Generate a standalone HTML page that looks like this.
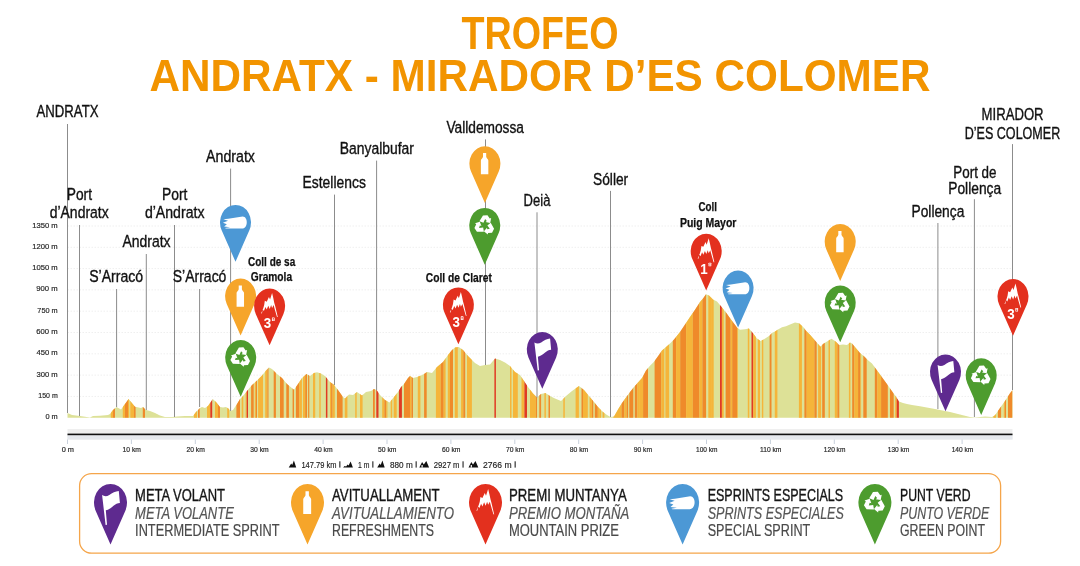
<!DOCTYPE html><html><head><meta charset="utf-8"><style>html,body{margin:0;padding:0;background:#fff;overflow:hidden}svg{display:block;will-change:transform}</style></head><body>
<svg width="1080" height="566" viewBox="0 0 1080 566" font-family='"Liberation Sans", sans-serif'>
<rect width="1080" height="566" fill="#fff"/>
<text x="540" y="48.5" text-anchor="middle" font-weight="bold" font-size="46" fill="#F29400" textLength="157" lengthAdjust="spacingAndGlyphs">TROFEO</text>
<text x="540" y="91" text-anchor="middle" font-weight="bold" font-size="45.2" fill="#F29400" textLength="781" lengthAdjust="spacingAndGlyphs">ANDRATX - MIRADOR D’ES COLOMER</text>
<text x="57.7" y="419.2" text-anchor="end" font-size="7.9" fill="#2a2a2a" stroke="#2a2a2a" stroke-width="0.2" textLength="12.3" lengthAdjust="spacingAndGlyphs">0 m</text>
<line x1="67.5" y1="396.4" x2="1012.5" y2="396.4" stroke="#efefef" stroke-width="1" stroke-dasharray="1.5,1.5"/>
<text x="57.7" y="397.9" text-anchor="end" font-size="7.9" fill="#2a2a2a" stroke="#2a2a2a" stroke-width="0.2" textLength="19.4" lengthAdjust="spacingAndGlyphs">150 m</text>
<line x1="67.5" y1="375.1" x2="1012.5" y2="375.1" stroke="#efefef" stroke-width="1" stroke-dasharray="1.5,1.5"/>
<text x="57.7" y="376.6" text-anchor="end" font-size="7.9" fill="#2a2a2a" stroke="#2a2a2a" stroke-width="0.2" textLength="21.3" lengthAdjust="spacingAndGlyphs">300 m</text>
<line x1="67.5" y1="353.8" x2="1012.5" y2="353.8" stroke="#efefef" stroke-width="1" stroke-dasharray="1.5,1.5"/>
<text x="57.7" y="355.3" text-anchor="end" font-size="7.9" fill="#2a2a2a" stroke="#2a2a2a" stroke-width="0.2" textLength="21.3" lengthAdjust="spacingAndGlyphs">450 m</text>
<line x1="67.5" y1="332.5" x2="1012.5" y2="332.5" stroke="#efefef" stroke-width="1" stroke-dasharray="1.5,1.5"/>
<text x="57.7" y="334.0" text-anchor="end" font-size="7.9" fill="#2a2a2a" stroke="#2a2a2a" stroke-width="0.2" textLength="21.4" lengthAdjust="spacingAndGlyphs">600 m</text>
<line x1="67.5" y1="311.2" x2="1012.5" y2="311.2" stroke="#efefef" stroke-width="1" stroke-dasharray="1.5,1.5"/>
<text x="57.7" y="312.7" text-anchor="end" font-size="7.9" fill="#2a2a2a" stroke="#2a2a2a" stroke-width="0.2" textLength="20.4" lengthAdjust="spacingAndGlyphs">750 m</text>
<line x1="67.5" y1="289.9" x2="1012.5" y2="289.9" stroke="#efefef" stroke-width="1" stroke-dasharray="1.5,1.5"/>
<text x="57.7" y="291.4" text-anchor="end" font-size="7.9" fill="#2a2a2a" stroke="#2a2a2a" stroke-width="0.2" textLength="21.4" lengthAdjust="spacingAndGlyphs">900 m</text>
<line x1="67.5" y1="268.6" x2="1012.5" y2="268.6" stroke="#efefef" stroke-width="1" stroke-dasharray="1.5,1.5"/>
<text x="57.7" y="270.1" text-anchor="end" font-size="7.9" fill="#2a2a2a" stroke="#2a2a2a" stroke-width="0.2" textLength="25.5" lengthAdjust="spacingAndGlyphs">1050 m</text>
<line x1="67.5" y1="247.3" x2="1012.5" y2="247.3" stroke="#efefef" stroke-width="1" stroke-dasharray="1.5,1.5"/>
<text x="57.7" y="248.8" text-anchor="end" font-size="7.9" fill="#2a2a2a" stroke="#2a2a2a" stroke-width="0.2" textLength="25.5" lengthAdjust="spacingAndGlyphs">1200 m</text>
<line x1="67.5" y1="226.0" x2="1012.5" y2="226.0" stroke="#efefef" stroke-width="1" stroke-dasharray="1.5,1.5"/>
<text x="57.7" y="227.5" text-anchor="end" font-size="7.9" fill="#2a2a2a" stroke="#2a2a2a" stroke-width="0.2" textLength="25.5" lengthAdjust="spacingAndGlyphs">1350 m</text>
<defs><clipPath id="pc"><path d="M67.5,417.7 L67.5,413.0 L72.0,415.0 L80.0,416.0 L90.0,417.5 L93.0,416.0 L100.0,415.7 L108.0,415.0 L110.0,414.0 L113.0,410.0 L116.5,407.0 L121.0,409.5 L128.6,399.0 L135.0,406.7 L141.0,408.0 L143.0,407.0 L146.0,410.0 L150.0,411.0 L155.0,413.0 L160.0,415.5 L165.0,417.0 L172.0,417.0 L177.0,416.5 L185.0,416.0 L193.0,416.0 L196.0,412.0 L200.0,408.0 L202.0,407.0 L205.0,408.0 L208.0,406.0 L212.8,399.0 L216.0,402.0 L220.0,407.0 L223.0,407.5 L226.0,407.0 L229.0,409.0 L230.3,411.0 L233.0,410.0 L237.0,404.0 L240.0,399.0 L243.0,396.0 L247.0,391.0 L252.0,385.0 L257.0,380.5 L262.0,375.6 L266.0,370.5 L269.0,367.5 L272.0,369.0 L277.0,374.0 L282.0,378.0 L287.0,384.0 L290.0,386.5 L294.0,389.8 L298.0,384.0 L302.0,378.0 L306.5,374.0 L310.0,376.0 L314.0,373.0 L317.0,372.2 L321.0,373.6 L325.0,376.0 L330.0,382.0 L334.0,384.7 L338.0,390.0 L343.0,397.0 L345.0,398.5 L349.0,394.5 L353.0,395.0 L357.0,392.0 L362.0,395.5 L366.0,392.0 L371.0,391.0 L374.0,389.0 L376.6,390.0 L380.0,395.0 L385.0,400.0 L389.5,402.5 L394.0,397.0 L398.0,392.0 L401.0,387.0 L404.0,384.0 L408.0,378.0 L410.0,376.0 L413.0,378.0 L417.0,377.0 L421.0,375.5 L424.0,374.0 L427.0,372.0 L432.0,373.0 L437.0,367.0 L443.0,362.0 L448.0,355.0 L452.0,350.0 L455.0,347.5 L458.7,347.0 L463.0,350.0 L468.0,356.0 L472.0,360.0 L475.0,363.0 L480.0,366.0 L485.0,365.0 L490.0,364.5 L495.0,358.5 L500.0,360.0 L505.0,362.5 L510.0,366.0 L515.0,372.0 L520.0,375.0 L524.0,381.0 L528.0,387.0 L533.0,393.5 L537.0,397.5 L541.0,394.0 L545.5,393.0 L550.0,396.0 L555.0,398.5 L561.0,401.0 L566.0,396.0 L572.0,391.0 L579.0,386.0 L584.0,390.0 L589.0,396.0 L594.0,402.0 L598.0,407.0 L603.0,412.0 L607.0,415.0 L610.5,417.0 L614.0,416.5 L618.0,409.5 L622.0,403.0 L626.0,397.6 L630.0,392.0 L634.0,387.0 L638.0,382.5 L642.0,378.0 L646.0,370.5 L650.0,365.8 L654.0,361.8 L658.0,356.2 L662.0,350.4 L666.0,347.0 L670.0,343.5 L674.0,339.5 L680.0,332.0 L685.0,324.6 L690.0,317.1 L695.0,309.7 L700.0,302.0 L703.0,298.5 L706.0,294.2 L709.0,295.5 L713.0,299.4 L717.0,301.6 L721.0,306.2 L726.0,312.6 L731.0,319.4 L737.0,327.5 L740.0,329.8 L745.0,329.2 L749.0,328.4 L753.0,333.2 L757.0,338.4 L760.5,341.1 L764.0,339.2 L769.0,336.0 L772.0,333.0 L775.0,331.6 L778.0,329.4 L782.0,327.2 L786.0,326.3 L790.0,324.6 L795.0,322.4 L799.0,323.3 L803.0,326.8 L806.0,330.8 L810.0,334.7 L815.0,340.5 L820.5,346.7 L823.0,344.0 L827.0,341.4 L831.5,338.7 L836.0,341.8 L839.0,345.1 L843.0,344.6 L847.0,345.1 L850.0,342.4 L852.0,343.5 L856.0,348.3 L860.0,353.0 L864.0,356.2 L868.0,360.2 L872.0,363.4 L876.0,369.0 L880.0,374.5 L884.0,380.0 L888.0,385.6 L892.0,391.2 L896.0,396.8 L899.0,401.5 L903.0,403.1 L907.0,403.9 L912.0,405.0 L920.0,406.3 L935.0,409.0 L950.0,412.0 L960.0,414.5 L970.0,417.0 L975.0,417.5 L985.0,416.5 L992.0,417.0 L995.0,415.2 L1000.0,408.0 L1005.0,401.0 L1010.0,393.3 L1012.5,390.0 L1012.5,417.7 Z"/></clipPath></defs>
<g clip-path="url(#pc)"><rect x="67" y="280" width="947" height="140" fill="#DDE197"/>
<rect x="110.8" y="280" width="2.2" height="140" fill="#F5B53A"/><rect x="113.0" y="280" width="2.0" height="140" fill="#EF8A2A"/><rect x="122.8" y="280" width="2.2" height="140" fill="#F5B53A"/><rect x="125.0" y="280" width="3.0" height="140" fill="#EF8A2A"/><rect x="128.0" y="280" width="1.2" height="140" fill="#F5B53A"/><rect x="130.3" y="280" width="3.7" height="140" fill="#F5B53A"/><rect x="134.0" y="280" width="1.6" height="140" fill="#EF8A2A"/><rect x="142.8" y="280" width="2.2" height="140" fill="#EF8A2A"/><rect x="193.9" y="280" width="3.1" height="140" fill="#F5B53A"/><rect x="198.0" y="280" width="1.7" height="140" fill="#EF8A2A"/><rect x="207.0" y="280" width="3.3" height="140" fill="#F5B53A"/><rect x="210.3" y="280" width="1.9" height="140" fill="#E03A24"/><rect x="215.0" y="280" width="3.0" height="140" fill="#F5B53A"/><rect x="218.0" y="280" width="2.0" height="140" fill="#EF8A2A"/><rect x="227.2" y="280" width="2.0" height="140" fill="#F5B53A"/><rect x="236.4" y="280" width="3.6" height="140" fill="#EF8A2A"/><rect x="241.7" y="280" width="1.6" height="140" fill="#F5B53A"/><rect x="245.6" y="280" width="1.1" height="140" fill="#F5B53A"/><rect x="246.7" y="280" width="1.3" height="140" fill="#E03A24"/><rect x="251.1" y="280" width="2.6" height="140" fill="#EF8A2A"/><rect x="254.8" y="280" width="1.1" height="140" fill="#F5B53A"/><rect x="255.9" y="280" width="1.1" height="140" fill="#EF8A2A"/><rect x="258.1" y="280" width="4.9" height="140" fill="#F5B53A"/><rect x="265.2" y="280" width="2.2" height="140" fill="#F5B53A"/><rect x="267.4" y="280" width="1.1" height="140" fill="#EF8A2A"/><rect x="273.7" y="280" width="2.2" height="140" fill="#EF8A2A"/><rect x="280.0" y="280" width="3.7" height="140" fill="#EF8A2A"/><rect x="286.3" y="280" width="2.6" height="140" fill="#EF8A2A"/><rect x="292.6" y="280" width="1.4" height="140" fill="#EF8A2A"/><rect x="295.9" y="280" width="3.4" height="140" fill="#EF8A2A"/><rect x="299.3" y="280" width="2.6" height="140" fill="#F5B53A"/><rect x="303.0" y="280" width="2.2" height="140" fill="#F5B53A"/><rect x="305.2" y="280" width="1.8" height="140" fill="#EF8A2A"/><rect x="308.1" y="280" width="1.2" height="140" fill="#EF8A2A"/><rect x="313.0" y="280" width="2.2" height="140" fill="#F5B53A"/><rect x="319.3" y="280" width="1.4" height="140" fill="#F5B53A"/><rect x="325.9" y="280" width="1.5" height="140" fill="#E03A24"/><rect x="330.0" y="280" width="1.1" height="140" fill="#F5B53A"/><rect x="331.1" y="280" width="1.5" height="140" fill="#EF8A2A"/><rect x="332.6" y="280" width="2.2" height="140" fill="#F5B53A"/><rect x="337.0" y="280" width="5.6" height="140" fill="#EF8A2A"/><rect x="344.8" y="280" width="2.6" height="140" fill="#F5B53A"/><rect x="355.2" y="280" width="1.5" height="140" fill="#F5B53A"/><rect x="360.0" y="280" width="2.6" height="140" fill="#F5B53A"/><rect x="373.0" y="280" width="1.8" height="140" fill="#EF8A2A"/><rect x="376.3" y="280" width="2.2" height="140" fill="#E03A24"/><rect x="382.2" y="280" width="2.2" height="140" fill="#F5B53A"/><rect x="384.4" y="280" width="1.9" height="140" fill="#EF8A2A"/><rect x="386.3" y="280" width="1.1" height="140" fill="#F5B53A"/><rect x="390.7" y="280" width="1.5" height="140" fill="#F5B53A"/><rect x="393.7" y="280" width="3.0" height="140" fill="#F5B53A"/><rect x="398.9" y="280" width="3.0" height="140" fill="#E03A24"/><rect x="404.0" y="280" width="6.0" height="140" fill="#EF8A2A"/><rect x="410.0" y="280" width="1.5" height="140" fill="#F5B53A"/><rect x="411.5" y="280" width="1.5" height="140" fill="#EF8A2A"/><rect x="417.8" y="280" width="2.6" height="140" fill="#F5B53A"/><rect x="424.1" y="280" width="2.6" height="140" fill="#EF8A2A"/><rect x="435.9" y="280" width="4.8" height="140" fill="#F5B53A"/><rect x="440.7" y="280" width="3.0" height="140" fill="#EF8A2A"/><rect x="443.7" y="280" width="1.9" height="140" fill="#F5B53A"/><rect x="447.8" y="280" width="2.2" height="140" fill="#F5B53A"/><rect x="450.0" y="280" width="3.0" height="140" fill="#EF8A2A"/><rect x="454.8" y="280" width="3.0" height="140" fill="#F5B53A"/><rect x="461.1" y="280" width="2.2" height="140" fill="#F5B53A"/><rect x="463.3" y="280" width="1.9" height="140" fill="#EF8A2A"/><rect x="467.0" y="280" width="4.9" height="140" fill="#F5B53A"/><rect x="494.4" y="280" width="1.5" height="140" fill="#E03A24"/><rect x="510.0" y="280" width="1.5" height="140" fill="#F5B53A"/><rect x="513.0" y="280" width="4.8" height="140" fill="#F5B53A"/><rect x="521.5" y="280" width="2.9" height="140" fill="#F5B53A"/><rect x="524.4" y="280" width="2.6" height="140" fill="#E03A24"/><rect x="530.0" y="280" width="5.9" height="140" fill="#F5B53A"/><rect x="535.9" y="280" width="1.1" height="140" fill="#EF8A2A"/><rect x="539.3" y="280" width="1.8" height="140" fill="#EF8A2A"/><rect x="544.4" y="280" width="1.5" height="140" fill="#F5B53A"/><rect x="548.5" y="280" width="1.5" height="140" fill="#EF8A2A"/><rect x="563.3" y="280" width="1.5" height="140" fill="#F5B53A"/><rect x="575.6" y="280" width="3.3" height="140" fill="#F5B53A"/><rect x="581.5" y="280" width="1.5" height="140" fill="#EF8A2A"/><rect x="583.0" y="280" width="4.8" height="140" fill="#F5B53A"/><rect x="589.6" y="280" width="2.3" height="140" fill="#F5B53A"/><rect x="591.9" y="280" width="1.4" height="140" fill="#EF8A2A"/><rect x="594.8" y="280" width="3.0" height="140" fill="#EF8A2A"/><rect x="597.8" y="280" width="1.5" height="140" fill="#F5B53A"/><rect x="599.3" y="280" width="1.8" height="140" fill="#F5B53A"/><rect x="602.6" y="280" width="1.8" height="140" fill="#F5B53A"/><rect x="613.3" y="280" width="8.2" height="140" fill="#F5B53A"/><rect x="621.5" y="280" width="2.9" height="140" fill="#EF8A2A"/><rect x="624.4" y="280" width="2.3" height="140" fill="#F5B53A"/><rect x="626.7" y="280" width="1.4" height="140" fill="#EF8A2A"/><rect x="629.3" y="280" width="4.0" height="140" fill="#EF8A2A"/><rect x="634.8" y="280" width="2.6" height="140" fill="#EF8A2A"/><rect x="637.4" y="280" width="1.7" height="140" fill="#F5B53A"/><rect x="639.1" y="280" width="4.0" height="140" fill="#F5B53A"/><rect x="643.1" y="280" width="4.9" height="140" fill="#EF8A2A"/><rect x="654.6" y="280" width="6.7" height="140" fill="#EF8A2A"/><rect x="661.3" y="280" width="3.0" height="140" fill="#F5B53A"/><rect x="665.4" y="280" width="3.7" height="140" fill="#F5B53A"/><rect x="672.8" y="280" width="3.3" height="140" fill="#EF8A2A"/><rect x="676.1" y="280" width="4.1" height="140" fill="#F5B53A"/><rect x="680.2" y="280" width="5.9" height="140" fill="#EF8A2A"/><rect x="686.1" y="280" width="6.7" height="140" fill="#F5B53A"/><rect x="692.8" y="280" width="6.6" height="140" fill="#EF8A2A"/><rect x="699.4" y="280" width="3.0" height="140" fill="#F5B53A"/><rect x="702.4" y="280" width="3.7" height="140" fill="#EF8A2A"/><rect x="708.3" y="280" width="3.0" height="140" fill="#F5B53A"/><rect x="711.1" y="280" width="2.6" height="140" fill="#F5B53A"/><rect x="720.0" y="280" width="1.9" height="140" fill="#E03A24"/><rect x="721.9" y="280" width="1.8" height="140" fill="#F5B53A"/><rect x="725.6" y="280" width="5.1" height="140" fill="#EF8A2A"/><rect x="730.7" y="280" width="1.5" height="140" fill="#F5B53A"/><rect x="732.2" y="280" width="4.8" height="140" fill="#EF8A2A"/><rect x="737.0" y="280" width="0.8" height="140" fill="#F5B53A"/><rect x="747.8" y="280" width="1.5" height="140" fill="#F5B53A"/><rect x="751.5" y="280" width="1.8" height="140" fill="#E03A24"/><rect x="753.3" y="280" width="2.6" height="140" fill="#F5B53A"/><rect x="757.8" y="280" width="2.2" height="140" fill="#F5B53A"/><rect x="761.9" y="280" width="1.4" height="140" fill="#F5B53A"/><rect x="769.6" y="280" width="1.9" height="140" fill="#EF8A2A"/><rect x="774.8" y="280" width="2.6" height="140" fill="#F5B53A"/><rect x="798.9" y="280" width="3.0" height="140" fill="#F5B53A"/><rect x="804.4" y="280" width="2.3" height="140" fill="#EF8A2A"/><rect x="806.7" y="280" width="7.7" height="140" fill="#F5B53A"/><rect x="814.4" y="280" width="2.3" height="140" fill="#EF8A2A"/><rect x="818.1" y="280" width="3.0" height="140" fill="#F5B53A"/><rect x="822.2" y="280" width="2.6" height="140" fill="#EF8A2A"/><rect x="828.5" y="280" width="1.5" height="140" fill="#F5B53A"/><rect x="834.8" y="280" width="2.6" height="140" fill="#F5B53A"/><rect x="837.4" y="280" width="1.9" height="140" fill="#EF8A2A"/><rect x="848.9" y="280" width="1.5" height="140" fill="#F5B53A"/><rect x="852.2" y="280" width="2.2" height="140" fill="#EF8A2A"/><rect x="854.4" y="280" width="3.7" height="140" fill="#F5B53A"/><rect x="858.1" y="280" width="2.3" height="140" fill="#EF8A2A"/><rect x="860.4" y="280" width="0.7" height="140" fill="#F5B53A"/><rect x="863.3" y="280" width="3.4" height="140" fill="#EF8A2A"/><rect x="874.8" y="280" width="2.6" height="140" fill="#EF8A2A"/><rect x="877.4" y="280" width="3.7" height="140" fill="#F5B53A"/><rect x="881.1" y="280" width="6.7" height="140" fill="#EF8A2A"/><rect x="890.0" y="280" width="3.7" height="140" fill="#EF8A2A"/><rect x="895.2" y="280" width="1.5" height="140" fill="#F5B53A"/><rect x="896.7" y="280" width="2.2" height="140" fill="#E03A24"/><rect x="993.4" y="280" width="2.5" height="140" fill="#F5B53A"/><rect x="997.9" y="280" width="3.2" height="140" fill="#EF8A2A"/><rect x="1003.8" y="280" width="1.0" height="140" fill="#F5B53A"/><rect x="1004.8" y="280" width="1.2" height="140" fill="#EF8A2A"/><rect x="1008.0" y="280" width="4.5" height="140" fill="#EF8A2A"/>
</g>
<line x1="67.5" y1="124.0" x2="67.5" y2="413.0" stroke="#8c8c8c" stroke-width="1"/>
<line x1="79.5" y1="225.0" x2="79.5" y2="416.0" stroke="#8c8c8c" stroke-width="1"/>
<line x1="116.6" y1="289.0" x2="116.6" y2="407.0" stroke="#8c8c8c" stroke-width="1"/>
<line x1="146.3" y1="254.0" x2="146.3" y2="410.0" stroke="#8c8c8c" stroke-width="1"/>
<line x1="174.5" y1="225.0" x2="174.5" y2="417.0" stroke="#8c8c8c" stroke-width="1"/>
<line x1="199.6" y1="289.0" x2="199.6" y2="407.0" stroke="#8c8c8c" stroke-width="1"/>
<line x1="230.6" y1="168.6" x2="230.6" y2="411.0" stroke="#8c8c8c" stroke-width="1"/>
<line x1="334.5" y1="194.6" x2="334.5" y2="385.0" stroke="#8c8c8c" stroke-width="1"/>
<line x1="376.6" y1="160.6" x2="376.6" y2="390.0" stroke="#8c8c8c" stroke-width="1"/>
<line x1="485.5" y1="139.4" x2="485.5" y2="365.0" stroke="#8c8c8c" stroke-width="1"/>
<line x1="537.0" y1="212.3" x2="537.0" y2="397.5" stroke="#8c8c8c" stroke-width="1"/>
<line x1="610.5" y1="190.9" x2="610.5" y2="417.0" stroke="#8c8c8c" stroke-width="1"/>
<line x1="937.9" y1="223.0" x2="937.9" y2="409.0" stroke="#8c8c8c" stroke-width="1"/>
<line x1="974.4" y1="199.2" x2="974.4" y2="417.0" stroke="#8c8c8c" stroke-width="1"/>
<line x1="1012.5" y1="144.1" x2="1012.5" y2="390.0" stroke="#8c8c8c" stroke-width="1"/>
<text x="67.5" y="117.0" text-anchor="middle" font-size="16.3" fill="#111" stroke="#111" stroke-width="0.35" textLength="62.0" lengthAdjust="spacingAndGlyphs">ANDRATX</text>
<text x="79.4" y="199.6" text-anchor="middle" font-size="16.3" fill="#111" stroke="#111" stroke-width="0.35" textLength="25.2" lengthAdjust="spacingAndGlyphs">Port</text>
<text x="79.2" y="217.8" text-anchor="middle" font-size="16.3" fill="#111" stroke="#111" stroke-width="0.35" textLength="59.0" lengthAdjust="spacingAndGlyphs">d’Andratx</text>
<text x="116.2" y="281.9" text-anchor="middle" font-size="16.3" fill="#111" stroke="#111" stroke-width="0.35" textLength="54.0" lengthAdjust="spacingAndGlyphs">S’Arracó</text>
<text x="146.5" y="246.5" text-anchor="middle" font-size="16.3" fill="#111" stroke="#111" stroke-width="0.35" textLength="48.2" lengthAdjust="spacingAndGlyphs">Andratx</text>
<text x="174.7" y="200.4" text-anchor="middle" font-size="16.3" fill="#111" stroke="#111" stroke-width="0.35" textLength="25.4" lengthAdjust="spacingAndGlyphs">Port</text>
<text x="174.7" y="217.6" text-anchor="middle" font-size="16.3" fill="#111" stroke="#111" stroke-width="0.35" textLength="59.6" lengthAdjust="spacingAndGlyphs">d’Andratx</text>
<text x="199.6" y="281.9" text-anchor="middle" font-size="16.3" fill="#111" stroke="#111" stroke-width="0.35" textLength="53.6" lengthAdjust="spacingAndGlyphs">S’Arracó</text>
<text x="230.5" y="161.6" text-anchor="middle" font-size="16.3" fill="#111" stroke="#111" stroke-width="0.35" textLength="48.9" lengthAdjust="spacingAndGlyphs">Andratx</text>
<text x="334.2" y="187.8" text-anchor="middle" font-size="16.3" fill="#111" stroke="#111" stroke-width="0.35" textLength="63.3" lengthAdjust="spacingAndGlyphs">Estellencs</text>
<text x="376.9" y="153.7" text-anchor="middle" font-size="16.3" fill="#111" stroke="#111" stroke-width="0.35" textLength="74.1" lengthAdjust="spacingAndGlyphs">Banyalbufar</text>
<text x="485.2" y="133.1" text-anchor="middle" font-size="16.3" fill="#111" stroke="#111" stroke-width="0.35" textLength="77.6" lengthAdjust="spacingAndGlyphs">Valldemossa</text>
<text x="537.0" y="205.8" text-anchor="middle" font-size="16.3" fill="#111" stroke="#111" stroke-width="0.35" textLength="26.8" lengthAdjust="spacingAndGlyphs">Deià</text>
<text x="610.6" y="184.7" text-anchor="middle" font-size="16.3" fill="#111" stroke="#111" stroke-width="0.35" textLength="35.2" lengthAdjust="spacingAndGlyphs">Sóller</text>
<text x="937.9" y="216.7" text-anchor="middle" font-size="16.3" fill="#111" stroke="#111" stroke-width="0.35" textLength="52.8" lengthAdjust="spacingAndGlyphs">Pollença</text>
<text x="974.9" y="178.1" text-anchor="middle" font-size="16.3" fill="#111" stroke="#111" stroke-width="0.35" textLength="43.2" lengthAdjust="spacingAndGlyphs">Port de</text>
<text x="974.7" y="193.7" text-anchor="middle" font-size="16.3" fill="#111" stroke="#111" stroke-width="0.35" textLength="52.9" lengthAdjust="spacingAndGlyphs">Pollença</text>
<text x="1012.6" y="120.2" text-anchor="middle" font-size="16.3" fill="#111" stroke="#111" stroke-width="0.35" textLength="62.0" lengthAdjust="spacingAndGlyphs">MIRADOR</text>
<text x="1012.5" y="138.6" text-anchor="middle" font-size="16.3" fill="#111" stroke="#111" stroke-width="0.35" textLength="95.5" lengthAdjust="spacingAndGlyphs">D’ES COLOMER</text>
<text x="271.6" y="265.9" text-anchor="middle" font-size="12" font-weight="bold" fill="#111" stroke="#111" stroke-width="0.25" textLength="47.3" lengthAdjust="spacingAndGlyphs">Coll de sa</text>
<text x="271.4" y="280.5" text-anchor="middle" font-size="12" font-weight="bold" fill="#111" stroke="#111" stroke-width="0.25" textLength="41.3" lengthAdjust="spacingAndGlyphs">Gramola</text>
<text x="458.8" y="281.7" text-anchor="middle" font-size="12" font-weight="bold" fill="#111" stroke="#111" stroke-width="0.25" textLength="66.0" lengthAdjust="spacingAndGlyphs">Coll de Claret</text>
<text x="707.7" y="211.0" text-anchor="middle" font-size="12" font-weight="bold" fill="#111" stroke="#111" stroke-width="0.25" textLength="18.5" lengthAdjust="spacingAndGlyphs">Coll</text>
<text x="708.2" y="226.6" text-anchor="middle" font-size="12" font-weight="bold" fill="#111" stroke="#111" stroke-width="0.25" textLength="56.4" lengthAdjust="spacingAndGlyphs">Puig Mayor</text>
<rect x="67.5" y="429" width="945" height="10.5" fill="#efefef"/>
<rect x="67.5" y="435" width="945" height="4.5" fill="#e6e9ee"/>
<rect x="67.5" y="433.6" width="945" height="1.6" fill="#111"/>
<line x1="67.5" y1="439.5" x2="67.5" y2="444" stroke="#c8d0dc" stroke-width="1"/>
<text x="67.8" y="452.4" text-anchor="middle" font-size="7.2" fill="#2a2a2a" stroke="#2a2a2a" stroke-width="0.2" textLength="12.3" lengthAdjust="spacingAndGlyphs">0 m</text>
<line x1="131.4" y1="439.5" x2="131.4" y2="444" stroke="#c8d0dc" stroke-width="1"/>
<text x="131.7" y="452.4" text-anchor="middle" font-size="7.2" fill="#2a2a2a" stroke="#2a2a2a" stroke-width="0.2" textLength="18.4" lengthAdjust="spacingAndGlyphs">10 km</text>
<line x1="195.3" y1="439.5" x2="195.3" y2="444" stroke="#c8d0dc" stroke-width="1"/>
<text x="195.6" y="452.4" text-anchor="middle" font-size="7.2" fill="#2a2a2a" stroke="#2a2a2a" stroke-width="0.2" textLength="18.4" lengthAdjust="spacingAndGlyphs">20 km</text>
<line x1="259.2" y1="439.5" x2="259.2" y2="444" stroke="#c8d0dc" stroke-width="1"/>
<text x="259.5" y="452.4" text-anchor="middle" font-size="7.2" fill="#2a2a2a" stroke="#2a2a2a" stroke-width="0.2" textLength="18.4" lengthAdjust="spacingAndGlyphs">30 km</text>
<line x1="323.1" y1="439.5" x2="323.1" y2="444" stroke="#c8d0dc" stroke-width="1"/>
<text x="323.4" y="452.4" text-anchor="middle" font-size="7.2" fill="#2a2a2a" stroke="#2a2a2a" stroke-width="0.2" textLength="18.4" lengthAdjust="spacingAndGlyphs">40 km</text>
<line x1="387.0" y1="439.5" x2="387.0" y2="444" stroke="#c8d0dc" stroke-width="1"/>
<text x="387.3" y="452.4" text-anchor="middle" font-size="7.2" fill="#2a2a2a" stroke="#2a2a2a" stroke-width="0.2" textLength="18.4" lengthAdjust="spacingAndGlyphs">50 km</text>
<line x1="450.9" y1="439.5" x2="450.9" y2="444" stroke="#c8d0dc" stroke-width="1"/>
<text x="451.2" y="452.4" text-anchor="middle" font-size="7.2" fill="#2a2a2a" stroke="#2a2a2a" stroke-width="0.2" textLength="18.4" lengthAdjust="spacingAndGlyphs">60 km</text>
<line x1="514.8" y1="439.5" x2="514.8" y2="444" stroke="#c8d0dc" stroke-width="1"/>
<text x="515.1" y="452.4" text-anchor="middle" font-size="7.2" fill="#2a2a2a" stroke="#2a2a2a" stroke-width="0.2" textLength="18.4" lengthAdjust="spacingAndGlyphs">70 km</text>
<line x1="578.7" y1="439.5" x2="578.7" y2="444" stroke="#c8d0dc" stroke-width="1"/>
<text x="579.0" y="452.4" text-anchor="middle" font-size="7.2" fill="#2a2a2a" stroke="#2a2a2a" stroke-width="0.2" textLength="18.4" lengthAdjust="spacingAndGlyphs">80 km</text>
<line x1="642.6" y1="439.5" x2="642.6" y2="444" stroke="#c8d0dc" stroke-width="1"/>
<text x="642.9" y="452.4" text-anchor="middle" font-size="7.2" fill="#2a2a2a" stroke="#2a2a2a" stroke-width="0.2" textLength="18.4" lengthAdjust="spacingAndGlyphs">90 km</text>
<line x1="706.5" y1="439.5" x2="706.5" y2="444" stroke="#c8d0dc" stroke-width="1"/>
<text x="706.8" y="452.4" text-anchor="middle" font-size="7.2" fill="#2a2a2a" stroke="#2a2a2a" stroke-width="0.2" textLength="21.5" lengthAdjust="spacingAndGlyphs">100 km</text>
<line x1="770.4" y1="439.5" x2="770.4" y2="444" stroke="#c8d0dc" stroke-width="1"/>
<text x="770.7" y="452.4" text-anchor="middle" font-size="7.2" fill="#2a2a2a" stroke="#2a2a2a" stroke-width="0.2" textLength="21.5" lengthAdjust="spacingAndGlyphs">110 km</text>
<line x1="834.3" y1="439.5" x2="834.3" y2="444" stroke="#c8d0dc" stroke-width="1"/>
<text x="834.6" y="452.4" text-anchor="middle" font-size="7.2" fill="#2a2a2a" stroke="#2a2a2a" stroke-width="0.2" textLength="21.5" lengthAdjust="spacingAndGlyphs">120 km</text>
<line x1="898.2" y1="439.5" x2="898.2" y2="444" stroke="#c8d0dc" stroke-width="1"/>
<text x="898.5" y="452.4" text-anchor="middle" font-size="7.2" fill="#2a2a2a" stroke="#2a2a2a" stroke-width="0.2" textLength="21.5" lengthAdjust="spacingAndGlyphs">130 km</text>
<line x1="962.1" y1="439.5" x2="962.1" y2="444" stroke="#c8d0dc" stroke-width="1"/>
<text x="962.4" y="452.4" text-anchor="middle" font-size="7.2" fill="#2a2a2a" stroke="#2a2a2a" stroke-width="0.2" textLength="21.5" lengthAdjust="spacingAndGlyphs">140 km</text>
<path d="M288.7,467.6 L291.2,463.5 L292.2,465 L293.9,460.5 L296.2,467.6 Z" fill="#111"/>
<text x="301.4" y="467.6" font-size="8.8" fill="#222" stroke="#222" stroke-width="0.15" textLength="35.0" lengthAdjust="spacingAndGlyphs">147.79 km</text>
<rect x="339.3" y="461.3" width="1.1" height="6.3" fill="#222"/>
<path d="M343.1,467.6 L344.6,466 L346.1,466.5 L347.6,464.5 L348.6,465.5 L350.6,461.5 L352.9,467.6 Z" fill="#111"/>
<text x="358.1" y="467.6" font-size="8.8" fill="#222" stroke="#222" stroke-width="0.15" textLength="11.4" lengthAdjust="spacingAndGlyphs">1 m</text>
<rect x="372.3" y="461.3" width="1.1" height="6.3" fill="#222"/>
<path d="M377.2,467.6 L379.7,463.5 L380.7,465 L382.4,460.5 L384.7,467.6 Z" fill="#111"/>
<text x="390.0" y="467.6" font-size="8.8" fill="#222" stroke="#222" stroke-width="0.15" textLength="22.7" lengthAdjust="spacingAndGlyphs">880 m</text>
<rect x="415.6" y="461.3" width="1.1" height="6.3" fill="#222"/>
<path d="M419.3,467.6 L422.1,462 L423.8,464.5 L426.3,461 L429.1,467.6 Z" fill="#111"/><rect x="421.5" y="465" width="1.2" height="2.6" fill="#fff"/>
<text x="433.8" y="467.6" font-size="8.8" fill="#222" stroke="#222" stroke-width="0.15" textLength="25.7" lengthAdjust="spacingAndGlyphs">2927 m</text>
<rect x="462.5" y="461.3" width="1.1" height="6.3" fill="#222"/>
<path d="M468.5,467.6 L471.3,462 L473.0,464.5 L475.5,461 L478.3,467.6 Z" fill="#111"/><rect x="470.7" y="465" width="1.2" height="2.6" fill="#fff"/>
<text x="483.0" y="467.6" font-size="8.8" fill="#222" stroke="#222" stroke-width="0.15" textLength="28.6" lengthAdjust="spacingAndGlyphs">2766 m</text>
<rect x="514.6" y="461.3" width="1.1" height="6.3" fill="#222"/>
<rect x="79.6" y="473.6" width="921" height="79.6" rx="12" ry="12" fill="none" stroke="#F5A54A" stroke-width="1.3"/>
<g transform="translate(235.50,220.40) scale(0.9394)"><path d="M0,44.0 L-14.75,10.56 A16.5,18.7 0 1 1 14.75,10.56 Z" fill="#4C98D5"/><path d="M-7.71,-1.67 L7.6,-4.14 C13.6,-4.14 13.6,8.71 7.12,8.71 L-10.18,8.71 L-11.17,8.21 L-5.74,7.23 L-12.16,6.48 L-9.2,4.0 L-13.4,2.53 L-7.96,0.3 L-12.9,-1.18 Z" fill="#fff"/></g>
<g transform="translate(240.60,294.10) scale(0.9394)"><path d="M0,44.0 L-14.75,10.56 A16.5,18.7 0 1 1 14.75,10.56 Z" fill="#F6A52A"/><path d="M-2.01,-9.21 L1.38,-9.21 L1.38,-5.25 C1.6,-3.6 3.65,-2.8 3.65,-1.28 L3.65,13.43 L-4.27,13.43 L-4.27,-1.28 C-4.27,-2.8 -2.2,-3.6 -2.01,-5.25 Z" fill="#fff"/></g>
<g transform="translate(269.60,304.00) scale(0.9394)"><path d="M0,44.0 L-14.75,10.56 A16.5,18.7 0 1 1 14.75,10.56 Z" fill="#E3301E"/><path d="M-9.11,10.24 L-6.75,4.53 L-5.75,1.18 L-5.08,-3.52 L-3.06,-2.52 L-0.71,-7.55 L0.5,-4.87 L2.65,-11.58 L3.86,-6.55 L5.0,-1.17 L6.01,2.52 L8.69,13.94 L7.89,13.8 L5.0,3.86 L4.33,1.18 L2.65,4.2 L1.64,1.18 L0.1,5.2 L-1.38,1.85 L-3.06,5.88 L-4.4,3.19 L-6.08,7.56 L-7.43,5.88 L-8.1,9.9 Z" fill="#fff"/><text x="-2.3" y="25.9" text-anchor="middle" font-size="16" font-weight="bold" fill="#fff" textLength="7.9" lengthAdjust="spacingAndGlyphs">3</text><rect x="2.5" y="14.3" width="2.9" height="3.9" rx="0.6" fill="#fff"/><rect x="3.3" y="15.1" width="1.3" height="0.9" fill="#E3301E"/><rect x="3.3" y="16.5" width="1.3" height="0.9" fill="#E3301E"/></g>
<g transform="translate(240.70,355.50) scale(0.9394)"><path d="M0,44.0 L-14.75,10.56 A16.5,18.7 0 1 1 14.75,10.56 Z" fill="#4D9C2E"/><g transform="translate(-0.1,2.03)"><path transform="rotate(0)" d="M-5.6,-4.2 L-1.8,-10.52 L3.0,-10.83 L5.42,-7.23 L6.92,-7.83 L5.9,-2.5 L1.0,-3.4 L2.3,-4.6 L0.5,-6.6 L-1.3,-2.6 Z" fill="#fff"/><path transform="rotate(120)" d="M-5.6,-4.2 L-1.8,-10.52 L3.0,-10.83 L5.42,-7.23 L6.92,-7.83 L5.9,-2.5 L1.0,-3.4 L2.3,-4.6 L0.5,-6.6 L-1.3,-2.6 Z" fill="#fff"/><path transform="rotate(240)" d="M-5.6,-4.2 L-1.8,-10.52 L3.0,-10.83 L5.42,-7.23 L6.92,-7.83 L5.9,-2.5 L1.0,-3.4 L2.3,-4.6 L0.5,-6.6 L-1.3,-2.6 Z" fill="#fff"/></g></g>
<g transform="translate(484.90,161.70) scale(0.9394)"><path d="M0,44.0 L-14.75,10.56 A16.5,18.7 0 1 1 14.75,10.56 Z" fill="#F6A52A"/><path d="M-2.01,-9.21 L1.38,-9.21 L1.38,-5.25 C1.6,-3.6 3.65,-2.8 3.65,-1.28 L3.65,13.43 L-4.27,13.43 L-4.27,-1.28 C-4.27,-2.8 -2.2,-3.6 -2.01,-5.25 Z" fill="#fff"/></g>
<g transform="translate(484.75,223.40) scale(0.9394)"><path d="M0,44.0 L-14.75,10.56 A16.5,18.7 0 1 1 14.75,10.56 Z" fill="#4D9C2E"/><g transform="translate(-0.1,2.03)"><path transform="rotate(0)" d="M-5.6,-4.2 L-1.8,-10.52 L3.0,-10.83 L5.42,-7.23 L6.92,-7.83 L5.9,-2.5 L1.0,-3.4 L2.3,-4.6 L0.5,-6.6 L-1.3,-2.6 Z" fill="#fff"/><path transform="rotate(120)" d="M-5.6,-4.2 L-1.8,-10.52 L3.0,-10.83 L5.42,-7.23 L6.92,-7.83 L5.9,-2.5 L1.0,-3.4 L2.3,-4.6 L0.5,-6.6 L-1.3,-2.6 Z" fill="#fff"/><path transform="rotate(240)" d="M-5.6,-4.2 L-1.8,-10.52 L3.0,-10.83 L5.42,-7.23 L6.92,-7.83 L5.9,-2.5 L1.0,-3.4 L2.3,-4.6 L0.5,-6.6 L-1.3,-2.6 Z" fill="#fff"/></g></g>
<g transform="translate(458.40,302.90) scale(0.9394)"><path d="M0,44.0 L-14.75,10.56 A16.5,18.7 0 1 1 14.75,10.56 Z" fill="#E3301E"/><path d="M-9.11,10.24 L-6.75,4.53 L-5.75,1.18 L-5.08,-3.52 L-3.06,-2.52 L-0.71,-7.55 L0.5,-4.87 L2.65,-11.58 L3.86,-6.55 L5.0,-1.17 L6.01,2.52 L8.69,13.94 L7.89,13.8 L5.0,3.86 L4.33,1.18 L2.65,4.2 L1.64,1.18 L0.1,5.2 L-1.38,1.85 L-3.06,5.88 L-4.4,3.19 L-6.08,7.56 L-7.43,5.88 L-8.1,9.9 Z" fill="#fff"/><text x="-2.3" y="25.9" text-anchor="middle" font-size="16" font-weight="bold" fill="#fff" textLength="7.9" lengthAdjust="spacingAndGlyphs">3</text><rect x="2.5" y="14.3" width="2.9" height="3.9" rx="0.6" fill="#fff"/><rect x="3.3" y="15.1" width="1.3" height="0.9" fill="#E3301E"/><rect x="3.3" y="16.5" width="1.3" height="0.9" fill="#E3301E"/></g>
<g transform="translate(542.30,347.50) scale(0.9394)"><path d="M0,44.0 L-14.75,10.56 A16.5,18.7 0 1 1 14.75,10.56 Z" fill="#5E2A8F"/><path d="M-8.41,-5.38 C-6.6,-4.1 -4,-3.6 -1.2,-5.4 C1.8,-7.4 5,-9.3 8.3,-9.47 L9.42,2.42 C7,2.6 5,3.6 3,5.3 C1,7.1 -1.8,9.2 -4.7,9.8 L-3.5,24.3 L-4.9,24.4 Z" fill="#fff"/></g>
<g transform="translate(706.20,249.20) scale(0.9394)"><path d="M0,44.0 L-14.75,10.56 A16.5,18.7 0 1 1 14.75,10.56 Z" fill="#E3301E"/><path d="M-9.11,10.24 L-6.75,4.53 L-5.75,1.18 L-5.08,-3.52 L-3.06,-2.52 L-0.71,-7.55 L0.5,-4.87 L2.65,-11.58 L3.86,-6.55 L5.0,-1.17 L6.01,2.52 L8.69,13.94 L7.89,13.8 L5.0,3.86 L4.33,1.18 L2.65,4.2 L1.64,1.18 L0.1,5.2 L-1.38,1.85 L-3.06,5.88 L-4.4,3.19 L-6.08,7.56 L-7.43,5.88 L-8.1,9.9 Z" fill="#fff"/><text x="-2.3" y="25.9" text-anchor="middle" font-size="16" font-weight="bold" fill="#fff" textLength="7.9" lengthAdjust="spacingAndGlyphs">1</text><rect x="2.5" y="14.3" width="2.9" height="3.9" rx="0.6" fill="#fff"/><rect x="3.3" y="15.1" width="1.3" height="0.9" fill="#E3301E"/><rect x="3.3" y="16.5" width="1.3" height="0.9" fill="#E3301E"/></g>
<g transform="translate(738.10,286.10) scale(0.9394)"><path d="M0,44.0 L-14.75,10.56 A16.5,18.7 0 1 1 14.75,10.56 Z" fill="#4C98D5"/><path d="M-7.71,-1.67 L7.6,-4.14 C13.6,-4.14 13.6,8.71 7.12,8.71 L-10.18,8.71 L-11.17,8.21 L-5.74,7.23 L-12.16,6.48 L-9.2,4.0 L-13.4,2.53 L-7.96,0.3 L-12.9,-1.18 Z" fill="#fff"/></g>
<g transform="translate(840.20,239.60) scale(0.9394)"><path d="M0,44.0 L-14.75,10.56 A16.5,18.7 0 1 1 14.75,10.56 Z" fill="#F6A52A"/><path d="M-2.01,-9.21 L1.38,-9.21 L1.38,-5.25 C1.6,-3.6 3.65,-2.8 3.65,-1.28 L3.65,13.43 L-4.27,13.43 L-4.27,-1.28 C-4.27,-2.8 -2.2,-3.6 -2.01,-5.25 Z" fill="#fff"/></g>
<g transform="translate(840.20,301.00) scale(0.9394)"><path d="M0,44.0 L-14.75,10.56 A16.5,18.7 0 1 1 14.75,10.56 Z" fill="#4D9C2E"/><g transform="translate(-0.1,2.03)"><path transform="rotate(0)" d="M-5.6,-4.2 L-1.8,-10.52 L3.0,-10.83 L5.42,-7.23 L6.92,-7.83 L5.9,-2.5 L1.0,-3.4 L2.3,-4.6 L0.5,-6.6 L-1.3,-2.6 Z" fill="#fff"/><path transform="rotate(120)" d="M-5.6,-4.2 L-1.8,-10.52 L3.0,-10.83 L5.42,-7.23 L6.92,-7.83 L5.9,-2.5 L1.0,-3.4 L2.3,-4.6 L0.5,-6.6 L-1.3,-2.6 Z" fill="#fff"/><path transform="rotate(240)" d="M-5.6,-4.2 L-1.8,-10.52 L3.0,-10.83 L5.42,-7.23 L6.92,-7.83 L5.9,-2.5 L1.0,-3.4 L2.3,-4.6 L0.5,-6.6 L-1.3,-2.6 Z" fill="#fff"/></g></g>
<g transform="translate(945.50,370.00) scale(0.9394)"><path d="M0,44.0 L-14.75,10.56 A16.5,18.7 0 1 1 14.75,10.56 Z" fill="#5E2A8F"/><path d="M-8.41,-5.38 C-6.6,-4.1 -4,-3.6 -1.2,-5.4 C1.8,-7.4 5,-9.3 8.3,-9.47 L9.42,2.42 C7,2.6 5,3.6 3,5.3 C1,7.1 -1.8,9.2 -4.7,9.8 L-3.5,24.3 L-4.9,24.4 Z" fill="#fff"/></g>
<g transform="translate(981.20,373.70) scale(0.9394)"><path d="M0,44.0 L-14.75,10.56 A16.5,18.7 0 1 1 14.75,10.56 Z" fill="#4D9C2E"/><g transform="translate(-0.1,2.03)"><path transform="rotate(0)" d="M-5.6,-4.2 L-1.8,-10.52 L3.0,-10.83 L5.42,-7.23 L6.92,-7.83 L5.9,-2.5 L1.0,-3.4 L2.3,-4.6 L0.5,-6.6 L-1.3,-2.6 Z" fill="#fff"/><path transform="rotate(120)" d="M-5.6,-4.2 L-1.8,-10.52 L3.0,-10.83 L5.42,-7.23 L6.92,-7.83 L5.9,-2.5 L1.0,-3.4 L2.3,-4.6 L0.5,-6.6 L-1.3,-2.6 Z" fill="#fff"/><path transform="rotate(240)" d="M-5.6,-4.2 L-1.8,-10.52 L3.0,-10.83 L5.42,-7.23 L6.92,-7.83 L5.9,-2.5 L1.0,-3.4 L2.3,-4.6 L0.5,-6.6 L-1.3,-2.6 Z" fill="#fff"/></g></g>
<g transform="translate(1013.00,294.50) scale(0.9394)"><path d="M0,44.0 L-14.75,10.56 A16.5,18.7 0 1 1 14.75,10.56 Z" fill="#E3301E"/><path d="M-9.11,10.24 L-6.75,4.53 L-5.75,1.18 L-5.08,-3.52 L-3.06,-2.52 L-0.71,-7.55 L0.5,-4.87 L2.65,-11.58 L3.86,-6.55 L5.0,-1.17 L6.01,2.52 L8.69,13.94 L7.89,13.8 L5.0,3.86 L4.33,1.18 L2.65,4.2 L1.64,1.18 L0.1,5.2 L-1.38,1.85 L-3.06,5.88 L-4.4,3.19 L-6.08,7.56 L-7.43,5.88 L-8.1,9.9 Z" fill="#fff"/><text x="-2.3" y="25.9" text-anchor="middle" font-size="16" font-weight="bold" fill="#fff" textLength="7.9" lengthAdjust="spacingAndGlyphs">3</text><rect x="2.5" y="14.3" width="2.9" height="3.9" rx="0.6" fill="#fff"/><rect x="3.3" y="15.1" width="1.3" height="0.9" fill="#E3301E"/><rect x="3.3" y="16.5" width="1.3" height="0.9" fill="#E3301E"/></g>
<g transform="translate(110.50,500.50) scale(1.0000)"><path d="M0,44.0 L-14.75,10.56 A16.5,18.7 0 1 1 14.75,10.56 Z" fill="#5E2A8F"/><path d="M-8.41,-5.38 C-6.6,-4.1 -4,-3.6 -1.2,-5.4 C1.8,-7.4 5,-9.3 8.3,-9.47 L9.42,2.42 C7,2.6 5,3.6 3,5.3 C1,7.1 -1.8,9.2 -4.7,9.8 L-3.5,24.3 L-4.9,24.4 Z" fill="#fff"/></g>
<text x="135.1" y="500.6" font-size="16.2" fill="#151515" stroke="#151515" stroke-width="0.35" textLength="89.9" lengthAdjust="spacingAndGlyphs">META VOLANT</text>
<text x="135.1" y="518.6" font-size="16.2" font-style="italic" fill="#555" stroke="#555" stroke-width="0.20" textLength="98.7" lengthAdjust="spacingAndGlyphs">META VOLANTE</text>
<text x="135.1" y="535.6" font-size="16.2" fill="#4a4a4a" stroke="#4a4a4a" stroke-width="0.20" textLength="144.5" lengthAdjust="spacingAndGlyphs">INTERMEDIATE SPRINT</text>
<g transform="translate(307.50,500.50) scale(1.0000)"><path d="M0,44.0 L-14.75,10.56 A16.5,18.7 0 1 1 14.75,10.56 Z" fill="#F6A52A"/><path d="M-2.01,-9.21 L1.38,-9.21 L1.38,-5.25 C1.6,-3.6 3.65,-2.8 3.65,-1.28 L3.65,13.43 L-4.27,13.43 L-4.27,-1.28 C-4.27,-2.8 -2.2,-3.6 -2.01,-5.25 Z" fill="#fff"/></g>
<text x="332.0" y="500.6" font-size="16.2" fill="#151515" stroke="#151515" stroke-width="0.35" textLength="107.6" lengthAdjust="spacingAndGlyphs">AVITUALLAMENT</text>
<text x="332.0" y="518.6" font-size="16.2" font-style="italic" fill="#555" stroke="#555" stroke-width="0.20" textLength="122.0" lengthAdjust="spacingAndGlyphs">AVITUALLAMIENTO</text>
<text x="332.0" y="535.6" font-size="16.2" fill="#4a4a4a" stroke="#4a4a4a" stroke-width="0.20" textLength="102.0" lengthAdjust="spacingAndGlyphs">REFRESHMENTS</text>
<g transform="translate(485.50,500.50) scale(1.0000)"><path d="M0,44.0 L-14.75,10.56 A16.5,18.7 0 1 1 14.75,10.56 Z" fill="#E3301E"/><path d="M-9.11,10.24 L-6.75,4.53 L-5.75,1.18 L-5.08,-3.52 L-3.06,-2.52 L-0.71,-7.55 L0.5,-4.87 L2.65,-11.58 L3.86,-6.55 L5.0,-1.17 L6.01,2.52 L8.69,13.94 L7.89,13.8 L5.0,3.86 L4.33,1.18 L2.65,4.2 L1.64,1.18 L0.1,5.2 L-1.38,1.85 L-3.06,5.88 L-4.4,3.19 L-6.08,7.56 L-7.43,5.88 L-8.1,9.9 Z" fill="#fff"/></g>
<text x="509.0" y="500.6" font-size="16.2" fill="#151515" stroke="#151515" stroke-width="0.35" textLength="117.7" lengthAdjust="spacingAndGlyphs">PREMI MUNTANYA</text>
<text x="509.0" y="518.6" font-size="16.2" font-style="italic" fill="#555" stroke="#555" stroke-width="0.20" textLength="120.4" lengthAdjust="spacingAndGlyphs">PREMIO MONTAÑA</text>
<text x="509.0" y="535.6" font-size="16.2" fill="#4a4a4a" stroke="#4a4a4a" stroke-width="0.20" textLength="109.9" lengthAdjust="spacingAndGlyphs">MOUNTAIN PRIZE</text>
<g transform="translate(682.60,500.50) scale(1.0000)"><path d="M0,44.0 L-14.75,10.56 A16.5,18.7 0 1 1 14.75,10.56 Z" fill="#4C98D5"/><path d="M-7.71,-1.67 L7.6,-4.14 C13.6,-4.14 13.6,8.71 7.12,8.71 L-10.18,8.71 L-11.17,8.21 L-5.74,7.23 L-12.16,6.48 L-9.2,4.0 L-13.4,2.53 L-7.96,0.3 L-12.9,-1.18 Z" fill="#fff"/></g>
<text x="707.7" y="500.6" font-size="16.2" fill="#151515" stroke="#151515" stroke-width="0.35" textLength="135.3" lengthAdjust="spacingAndGlyphs">ESPRINTS ESPECIALS</text>
<text x="707.7" y="518.6" font-size="16.2" font-style="italic" fill="#555" stroke="#555" stroke-width="0.20" textLength="136.2" lengthAdjust="spacingAndGlyphs">SPRINTS ESPECIALES</text>
<text x="707.7" y="535.6" font-size="16.2" fill="#4a4a4a" stroke="#4a4a4a" stroke-width="0.20" textLength="102.5" lengthAdjust="spacingAndGlyphs">SPECIAL SPRINT</text>
<g transform="translate(874.90,500.50) scale(1.0000)"><path d="M0,44.0 L-14.75,10.56 A16.5,18.7 0 1 1 14.75,10.56 Z" fill="#4D9C2E"/><g transform="translate(-0.1,2.03)"><path transform="rotate(0)" d="M-5.6,-4.2 L-1.8,-10.52 L3.0,-10.83 L5.42,-7.23 L6.92,-7.83 L5.9,-2.5 L1.0,-3.4 L2.3,-4.6 L0.5,-6.6 L-1.3,-2.6 Z" fill="#fff"/><path transform="rotate(120)" d="M-5.6,-4.2 L-1.8,-10.52 L3.0,-10.83 L5.42,-7.23 L6.92,-7.83 L5.9,-2.5 L1.0,-3.4 L2.3,-4.6 L0.5,-6.6 L-1.3,-2.6 Z" fill="#fff"/><path transform="rotate(240)" d="M-5.6,-4.2 L-1.8,-10.52 L3.0,-10.83 L5.42,-7.23 L6.92,-7.83 L5.9,-2.5 L1.0,-3.4 L2.3,-4.6 L0.5,-6.6 L-1.3,-2.6 Z" fill="#fff"/></g></g>
<text x="900.0" y="500.6" font-size="16.2" fill="#151515" stroke="#151515" stroke-width="0.35" textLength="70.5" lengthAdjust="spacingAndGlyphs">PUNT VERD</text>
<text x="900.0" y="518.6" font-size="16.2" font-style="italic" fill="#555" stroke="#555" stroke-width="0.20" textLength="89.3" lengthAdjust="spacingAndGlyphs">PUNTO VERDE</text>
<text x="900.0" y="535.6" font-size="16.2" fill="#4a4a4a" stroke="#4a4a4a" stroke-width="0.20" textLength="85.0" lengthAdjust="spacingAndGlyphs">GREEN POINT</text>
</svg></body></html>
